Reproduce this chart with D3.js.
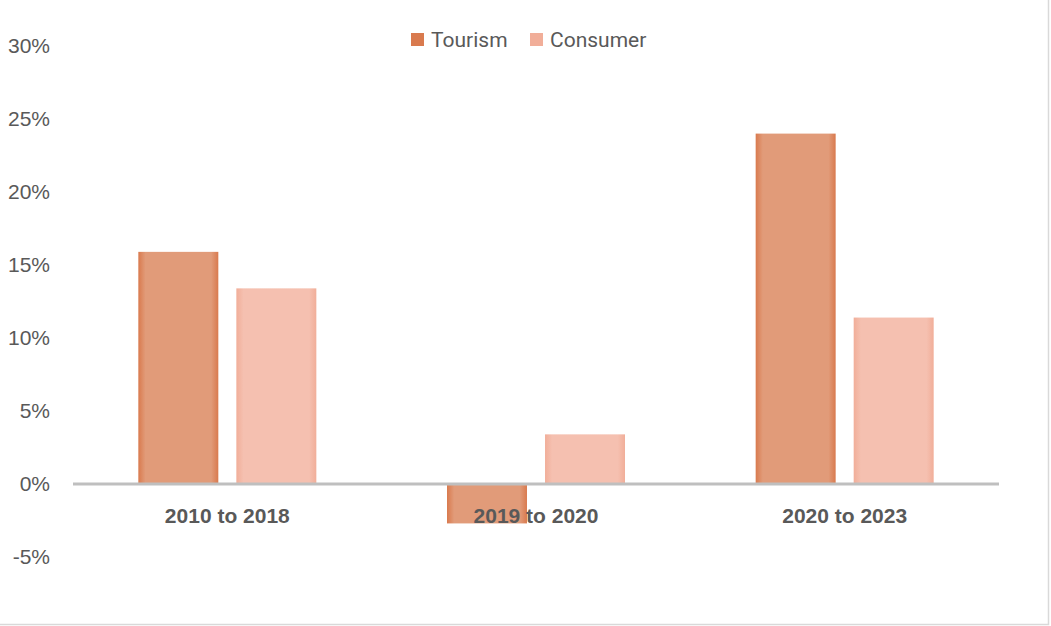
<!DOCTYPE html>
<html>
<head>
<meta charset="utf-8">
<script src="https://cdn.jsdelivr.net/npm/d3@7"></script>
<style>
  html, body { margin: 0; padding: 0; background: #fff; }
  svg { display: block; }
</style>
</head>
<body>
<svg id="chart" width="1051" height="626"></svg>
<script>
// Growth by period, in percent
const periods = ["2010 to 2018", "2019 to 2020", "2020 to 2023"];
const seriesNames = ["Tourism", "Consumer"];
const tourism = [15.9, -2.7, 24.0];
const consumer = [13.4, 3.4, 11.4];
const yTicks = [-5, 0, 5, 10, 15, 20, 25, 30];

const colors = {
  Tourism: { edge: "#d97a4e", mid: "#e19b79" },
  Consumer: { edge: "#f1ae99", mid: "#f5c0b0" }
};

const rows = periods.map((p, i) => ({ period: p, Tourism: tourism[i], Consumer: consumer[i] }));

const plot = { left: 73, right: 999, top: 46, bottom: 557 };
const svg = d3.select("#chart");

// Light frame lines on the right and bottom edges
svg.append("path")
  .attr("d", "M1048.5,0V624.5H0")
  .attr("fill", "none").attr("stroke", "#d9d9d9").attr("stroke-width", 1.5);

const y = d3.scaleLinear().domain([-5, 30]).range([plot.bottom, plot.top]);
const x0 = d3.scaleBand().domain(periods).range([plot.left, plot.right]).padding(0);
const groupW = 178;
const x1 = d3.scaleBand().domain(seriesNames)
  .range([(x0.bandwidth() - groupW) / 2, (x0.bandwidth() + groupW) / 2])
  .paddingInner(0.184).paddingOuter(0);

// Horizontal gradients give the bars their soft darker edges
const defs = svg.append("defs");
seriesNames.forEach(s => {
  const g = defs.append("linearGradient").attr("id", "grad-" + s)
    .attr("x1", "0%").attr("x2", "100%").attr("y1", "0%").attr("y2", "0%");
  g.append("stop").attr("offset", "0%").attr("stop-color", colors[s].edge);
  g.append("stop").attr("offset", "9%").attr("stop-color", colors[s].mid);
  g.append("stop").attr("offset", "91%").attr("stop-color", colors[s].mid);
  g.append("stop").attr("offset", "100%").attr("stop-color", colors[s].edge);
});

// Y axis labels (no axis line)
const yAxis = d3.axisLeft(y).tickValues(yTicks).tickSize(0).tickPadding(0)
  .tickFormat(d => d + "%");
const gy = svg.append("g").attr("transform", "translate(50,0)").call(yAxis);
gy.select(".domain").remove();
gy.selectAll("text")
  .attr("font-family", "'Liberation Sans', Arial, sans-serif")
  .attr("font-size", 21)
  .attr("fill", "#595959");

// Bars
const groups = svg.append("g").selectAll("g").data(rows).join("g")
  .attr("transform", d => `translate(${x0(d.period)},0)`);
groups.selectAll("rect")
  .data(d => seriesNames.map(s => ({ key: s, value: d[s] })))
  .join("rect")
  .attr("x", d => x1(d.key))
  .attr("width", x1.bandwidth())
  .attr("y", d => y(Math.max(0, d.value)))
  .attr("height", d => Math.abs(y(d.value) - y(0)))
  .attr("fill", d => `url(#grad-${d.key})`);

// Zero baseline
svg.append("line")
  .attr("x1", plot.left).attr("x2", plot.right)
  .attr("y1", y(0)).attr("y2", y(0))
  .attr("stroke", "#bfbfbf").attr("stroke-width", 3);

// Category labels
const xAxis = d3.axisBottom(x0).tickSize(0).tickPadding(0);
const gx = svg.append("g").attr("transform", `translate(0,${y(0) + 24})`).call(xAxis);
gx.select(".domain").remove();
gx.selectAll("text")
  .attr("font-family", "'Liberation Sans', Arial, sans-serif")
  .attr("font-size", 21)
  .attr("font-weight", "bold")
  .attr("fill", "#595959");

// Legend
const legendItems = [
  { key: "Tourism", x: 411 },
  { key: "Consumer", x: 530 }
];
const lg = svg.append("g");
legendItems.forEach(it => {
  lg.append("rect").attr("x", it.x).attr("y", 33).attr("width", 13).attr("height", 13)
    .attr("fill", colors[it.key].edge);
  lg.append("text").attr("x", it.x + 20).attr("y", 47)
    .attr("font-family", "Roboto, sans-serif").attr("font-size", 21)
    .attr("fill", "#595959").text(it.key);
});
</script>
</body>
</html>
